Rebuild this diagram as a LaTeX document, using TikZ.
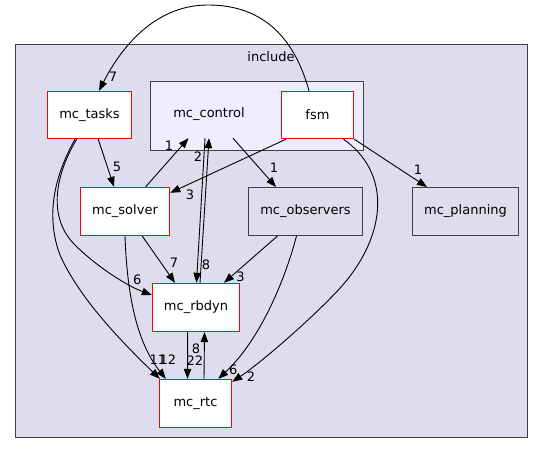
\documentclass[tikz,border=0pt]{standalone}
\usepackage{fontspec}
\setmainfont{DejaVu Sans}
\usetikzlibrary{arrows.meta}
\definecolor{clbg}{HTML}{DDDDEE}
\definecolor{clin}{HTML}{EEEEFF}
\definecolor{clbd}{HTML}{404040}
\definecolor{redbd}{HTML}{FF0000}
\tikzset{
  every node/.style={font=\fontsize{13}{15}\selectfont},
  rednode/.style={draw=redbd, fill=white, line width=1.4pt, inner sep=0pt},
  graynode/.style={draw=clbd, fill=clbg, line width=1pt, inner sep=0pt},
  clusterbox/.style={draw=clbd, line width=1pt, inner sep=0pt},
  dep/.style={draw=black, line width=0.9pt, -{Triangle[length=10pt,width=7.5pt]}},
  lbl/.style={inner sep=0pt}
}
\begin{document}
\begin{tikzpicture}[x=1pt,y=-1pt]
\useasboundingbox (0,0) rectangle (544,454);
% clusters
\node[clusterbox, fill=clbg, minimum width=512pt, minimum height=393pt] (include) at (271.5,241) {};
\node[lbl] (includelbl) at (271,57) {include};
\node[clusterbox, fill=clin, minimum width=213pt, minimum height=69pt] (controlbox) at (257,116) {};
\node[inner sep=0pt, minimum width=80pt, minimum height=48pt] (control) at (209,114) {mc\_control};
% nodes
\node[rednode, minimum width=84pt, minimum height=47pt] (tasks) at (89.5,115) {mc\_tasks};
\node[rednode, minimum width=72pt, minimum height=47pt] (fsm) at (317.5,115) {fsm};
\node[rednode, minimum width=89pt, minimum height=48pt] (solver) at (125,211.5) {mc\_solver};
\node[graynode, minimum width=114pt, minimum height=48pt] (obs) at (305.5,211.5) {mc\_observers};
\node[graynode, minimum width=106pt, minimum height=48pt] (plan) at (465.5,211.5) {mc\_planning};
\node[rednode, minimum width=87pt, minimum height=48pt] (rbdyn) at (196,307.5) {mc\_rbdyn};
\node[rednode, minimum width=72pt, minimum height=48pt] (rtc) at (195.5,403.5) {mc\_rtc};
% edges
\draw[dep] ([xshift=-8.5pt]fsm.north) .. controls (295,40) and (265,5) .. (208,5) .. controls (160,5) and (125,40) .. ([xshift=9.5pt]tasks.north);
\draw[dep] ([xshift=8.7pt]tasks.south) -- ([xshift=-11pt]solver.north);
\draw[dep] ([xshift=20.7pt]solver.north) -- ([xshift=-20.5pt]control.south);
\draw[dep] ([xshift=4pt]rbdyn.north) -- (control.south);
\draw[dep] ([xshift=-4pt]control.south) -- ([xshift=0.5pt]rbdyn.north);
\draw[dep] ([xshift=24pt]control.south) -- ([xshift=-29.5pt]obs.north);
\draw[dep] ([xshift=-31.5pt]fsm.south) -- ([yshift=-6pt]solver.north east);
\draw[dep] (fsm.south east) -- ([xshift=-38.5pt]plan.north);
\draw[dep] ([xshift=26pt]fsm.south) .. controls (390,172) and (387,230) .. (347,280) .. controls (327,305) and (265,360) .. ([yshift=-3pt]rtc.north east);
\draw[dep] ([xshift=17.3pt]solver.south) -- ([xshift=-21pt]rbdyn.north);
\draw[dep] ([xshift=-28pt]obs.south) -- ([xshift=28pt]rbdyn.north);
\draw[dep] ([xshift=-9pt]obs.south) .. controls (285,280) and (260,340) .. ([xshift=22.8pt]rtc.north);
\draw[dep] ([xshift=-12.8pt]tasks.south) .. controls (58,170) and (45,215) .. (75,245) .. controls (95,265) and (125,285) .. ([yshift=12.5pt]rbdyn.west);
\draw[dep] ([xshift=-14.5pt]tasks.south) .. controls (55,175) and (45,215) .. (60,255) .. controls (80,300) and (125,345) .. ([xshift=1pt]rtc.north west);
\draw[dep] (solver.south) .. controls (127,290) and (135,340) .. ([xshift=7pt]rtc.north west);
\draw[dep] ([xshift=-8.3pt]rbdyn.south) -- ([xshift=-8pt]rtc.north);
\draw[dep] ([xshift=8.5pt]rtc.north) -- ([xshift=8.5pt]rbdyn.south);
% edge labels
\node[lbl] (l1) at (113,77) {7};
\node[lbl] (l2) at (117,167) {5};
\node[lbl] (l3) at (169,146) {1};
\node[lbl] (l4) at (198,157) {2};
\node[lbl] (l5) at (206,265) {8};
\node[lbl] (l6) at (274,168) {1};
\node[lbl] (l7) at (190,195) {3};
\node[lbl] (l8) at (418,170) {1};
\node[lbl] (l9) at (251,377) {2};
\node[lbl] (l10) at (174,263) {7};
\node[lbl] (l11) at (240.5,277) {3};
\node[lbl] (l12) at (233.3,370) {6};
\node[lbl] (l13) at (137.3,280) {6};
\node[lbl] (l14) at (158,360) {11};
\node[lbl] (l15) at (168,360) {12};
\node[lbl] (l16) at (195,361) {22};
\node[lbl] (l17) at (196,348.5) {8};
\end{tikzpicture}
\end{document}
